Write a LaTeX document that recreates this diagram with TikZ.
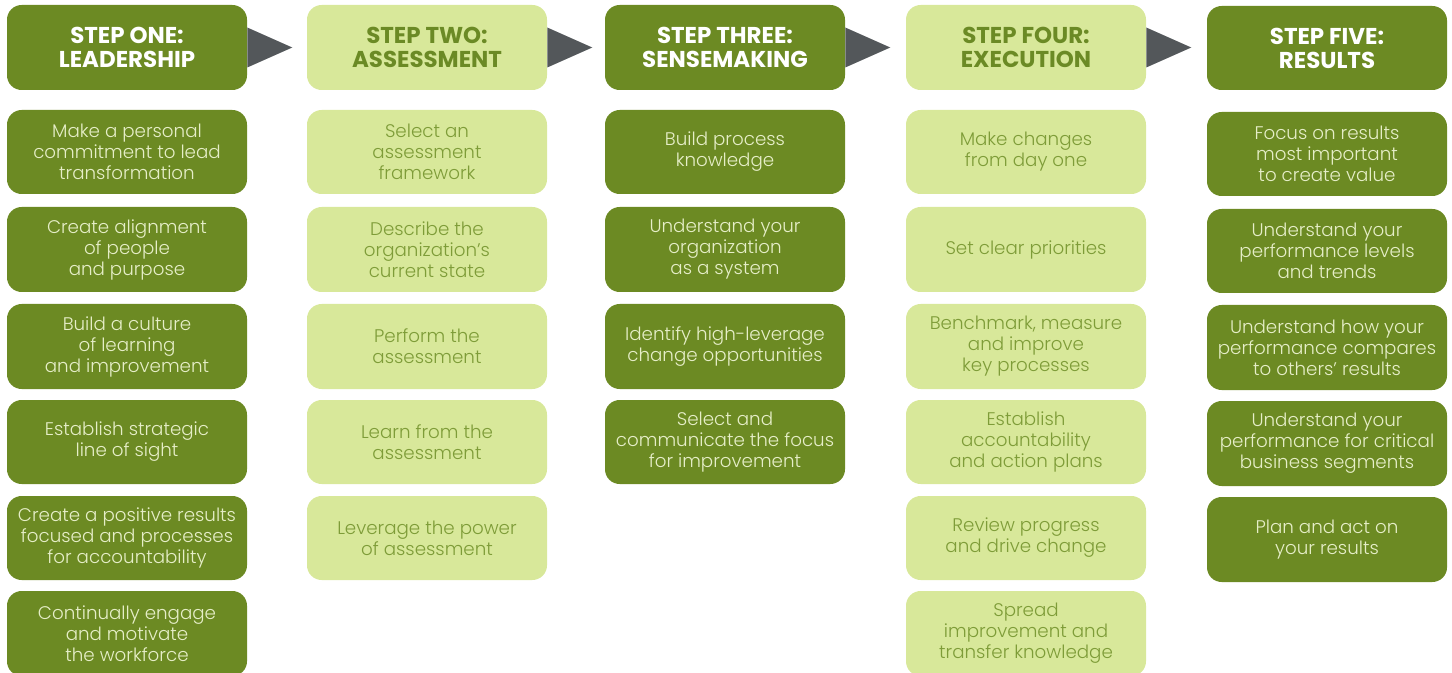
\documentclass[tikz,border=0pt]{standalone}
\usepackage{fontspec}
\setmainfont{Poppins}[UprightFont=* Light, BoldFont=* Bold]
\usetikzlibrary{calc}
\definecolor{dkgreen}{HTML}{6C8A23}
\definecolor{ltgreen}{HTML}{D8E89A}
\definecolor{dktext}{HTML}{6B8A25}
\definecolor{bodydk}{HTML}{7E9C38}
\definecolor{bodylt}{HTML}{E6EEC8}
\definecolor{arrowgray}{HTML}{53575A}
\tikzset{
  x=0.75pt, y=-0.75pt,
  box/.style={rounded corners=11pt, minimum width=180pt, inner sep=2pt, align=center},
  hdark/.style={box, fill=dkgreen, text=white, font=\fontsize{17.2}{18}\selectfont\bfseries},
  hlight/.style={box, fill=ltgreen, text=dktext, font=\fontsize{17.2}{18}\selectfont\bfseries},
  bdark/.style={box, fill=dkgreen, text=bodylt, font=\fontsize{13.7}{15.75}\selectfont},
  blight/.style={box, fill=ltgreen, text=bodydk, font=\fontsize{13.7}{15.75}\selectfont},
  tri/.style={fill=arrowgray}
}
\newcommand{\bx}[6]{% style, name, xleft, ytop, ybottom, text
  \node[#1, minimum height={(#5-#4)*0.75pt}] (#2) at ({#3+120},{(#4+#5)/2}) {#6};}
\begin{document}
\begin{tikzpicture}
\useasboundingbox (0,0) rectangle (1452,673);
% headers
\bx{hdark}{h1}{7}{5}{90}{STEP ONE:\\LEADERSHIP}
\bx{hlight}{h2}{307}{5}{90}{STEP TWO:\\ASSESSMENT}
\bx{hdark}{h3}{605}{5}{90}{STEP THREE:\\SENSEMAKING}
\bx{hlight}{h4}{906}{5}{90}{STEP FOUR:\\EXECUTION}
\bx{hdark}{h5}{1207}{6}{90}{STEP FIVE:\\RESULTS}
% arrows
\foreach \a/\b in {h1/h2,h2/h3,h3/h4,h4/h5}{
  \fill[tri] ($(\a.east)+(0,-20)$) -- ($(\a.east)+(45,0)$) -- ($(\a.east)+(0,20)$) -- cycle;
}
% column 1
\bx{bdark}{a1}{7}{110}{194}{Make a personal\\commitment to lead\\transformation}
\bx{bdark}{a2}{7}{207}{292}{Create alignment\\of people\\and purpose}
\bx{bdark}{a3}{7}{304}{389}{Build a culture\\of learning\\and improvement}
\bx{bdark}{a4}{7}{400}{484}{Establish strategic\\line of sight}
\bx{bdark}{a5}{7}{496}{580}{Create a positive results\\focused and processes\\for accountability}
\bx{bdark}{a6}{7}{591}{676}{Continually engage\\and motivate\\the workforce}
% column 2
\bx{blight}{b1}{307}{110}{194}{Select an\\assessment\\framework}
\bx{blight}{b2}{307}{207}{292}{Describe the\\organization’s\\current state}
\bx{blight}{b3}{307}{304}{389}{Perform the\\assessment}
\bx{blight}{b4}{307}{400}{484}{Learn from the\\assessment}
\bx{blight}{b5}{307}{496}{580}{Leverage the power\\of assessment}
% column 3
\bx{bdark}{c1}{605}{110}{194}{Build process\\knowledge}
\bx{bdark}{c2}{605}{207}{292}{Understand your\\organization\\as a system}
\bx{bdark}{c3}{605}{304}{389}{Identify high-leverage\\change opportunities}
\bx{bdark}{c4}{605}{400}{484}{Select and\\communicate the focus\\for improvement}
% column 4
\bx{blight}{d1}{906}{110}{194}{Make changes\\from day one}
\bx{blight}{d2}{906}{207}{292}{Set clear priorities}
\bx{blight}{d3}{906}{304}{389}{Benchmark, measure\\and improve\\key processes}
\bx{blight}{d4}{906}{400}{484}{Establish\\accountability\\and action plans}
\bx{blight}{d5}{906}{496}{580}{Review progress\\and drive change}
\bx{blight}{d6}{906}{591}{676}{Spread\\improvement and\\transfer knowledge}
% column 5
\bx{bdark}{e1}{1207}{112}{196}{Focus on results\\most important\\to create value}
\bx{bdark}{e2}{1207}{209}{293}{Understand your\\performance levels\\and trends}
\bx{bdark}{e3}{1207}{305}{390}{Understand how your\\performance compares\\to others’ results}
\bx{bdark}{e4}{1207}{401}{486}{Understand your\\performance for critical\\business segments}
\bx{bdark}{e5}{1207}{497}{582}{Plan and act on\\your results}
\end{tikzpicture}
\end{document}
